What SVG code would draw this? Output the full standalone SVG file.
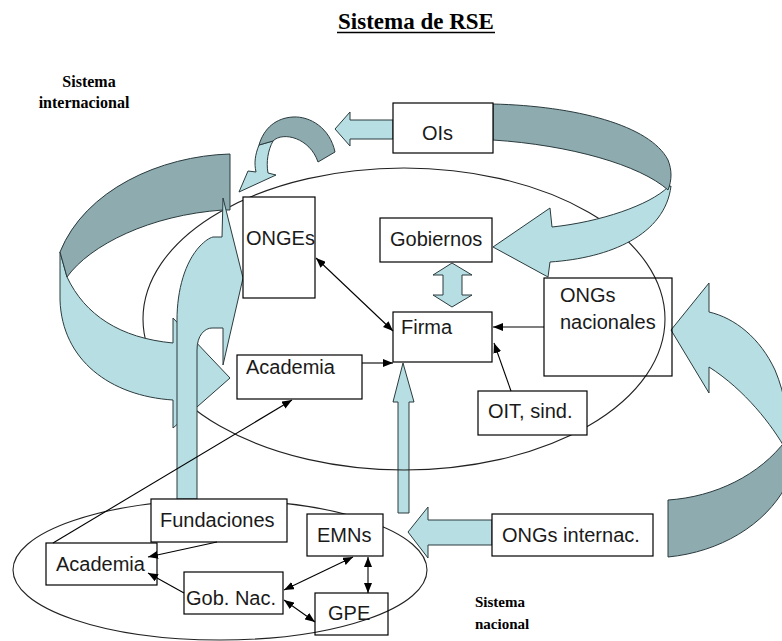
<svg xmlns="http://www.w3.org/2000/svg" width="782" height="641" viewBox="0 0 782 641">
<style>
.t{font-family:"Liberation Sans",Arial,sans-serif;font-size:20px;fill:#1a1a1a}
.lb{font-family:"Liberation Serif","Times New Roman",serif;font-weight:bold;fill:#000}
.box{fill:#fff;stroke:#000;stroke-width:1.2}
.boxo{fill:none;stroke:#000;stroke-width:1.2}
.ell{fill:none;stroke:#222;stroke-width:1.1}
.lt{fill:#b7dee2;stroke:#2a3b3e;stroke-width:1}
.dk{fill:#8eabb0;stroke:#2a3b3e;stroke-width:1}
.ln{fill:none;stroke:#000;stroke-width:1.1}
</style>
<defs>
<marker id="ah" viewBox="0 0 10 8" refX="10" refY="4" markerWidth="10" markerHeight="8" orient="auto-start-reverse" markerUnits="userSpaceOnUse"><path d="M0,0 L10,4 L0,8 Z" fill="#000"/></marker>
</defs>
<rect width="782" height="641" fill="#fff"/>

<g id="title">
<text class="lb" x="416" y="29" font-size="23" text-anchor="middle">Sistema de RSE</text>
<line x1="337" y1="32.5" x2="495" y2="32.5" stroke="#000" stroke-width="1.5"/>
</g>
<g id="label-internacional">
<text class="lb" x="89" y="87" font-size="16" text-anchor="middle">Sistema</text>
<text class="lb" x="84" y="108" font-size="16" text-anchor="middle">internacional</text>
</g>
<g id="label-nacional">
<text class="lb" x="475" y="607" font-size="15">Sistema</text>
<text class="lb" x="475" y="629" font-size="15">nacional</text>
</g>

<g id="firma-up-arrow">
<polygon class="lt" points="403,363 414,402 409,402 409,513 398,513 398,402 393,402"/>
</g>

<g id="ellipses">
<ellipse class="ell" cx="404" cy="319" rx="261" ry="151"/>
<ellipse class="ell" cx="220" cy="570" rx="207" ry="70"/>
</g>

<g id="block-arrows">
<path class="lt" d="M60,252 L60,300 C62,360 110,396 173,400 L173,428 L230,378 L173,318 L173,343 C120,338 85,315 67,277 Z"/>
<path class="dk" d="M230,154 C160,156 85,190 60,252 L67,277 C90,245 150,215 223,210 L230,210 Z"/>
<path class="lt" d="M177,499 L177,320 C177,290 185,262 200,246 C205,241 209,238 213,237 L222,237 L223,198 L243,278 L223,365 L223,328 L212,328 C205,328 197,335 197,350 L197,499 Z"/>
<path class="lt" d="M259,145 C255,155 254,163 256,172 L248,171 L239,192 L276,175 L268,173 C266,162 268,150 273,141 Z"/>
<path class="dk" d="M335,152 C330,128 310,116 293,117 C276,118 264,128 259,145 L273,141 C283,131 310,138 318,162 Z"/>
<path class="lt" d="M668,187 C650,205 600,222 552,227 L550,208 L493,247 L548,277 L550,262 C610,258 665,235 671,186 Z"/>
<path class="dk" d="M493,104 C575,106 650,125 668,160 C672,170 672,180 668,190 C640,165 570,145 493,140 Z"/>
<path class="lt" d="M709,312 C735,318 760,338 775,370 C780,382 784,395 786,410 L786,450 C772,425 745,390 709,367 L709,393 L671,330 L709,283 Z"/>
<path class="dk" d="M668,500 C715,497 760,475 786,440 L786,486 C765,525 720,552 668,557 Z"/>
<polygon class="lt" points="335,129 350,112 350,120 393,120 393,139 350,139 350,146"/>
<polygon class="lt" points="408,532 428,507 428,520 492,520 492,545 428,545 428,558"/>
<polygon class="lt" points="452,263 472,275 462,275 462,295 472,295 452,307 433,295 443,295 443,275 433,275"/>
</g>

<g id="n-ois"><rect class="box" x="393" y="103" width="100" height="50"/><text class="t" x="422" y="140">OIs</text></g>
<g id="n-onges"><rect class="box" x="243" y="197" width="72" height="101"/><text class="t" x="246" y="245">ONGEs</text></g>
<g id="n-gobiernos"><rect class="box" x="380" y="218" width="112" height="44"/><text class="t" x="390" y="246">Gobiernos</text></g>
<g id="n-firma"><rect class="box" x="393" y="312" width="99" height="50"/><text class="t" x="401" y="334">Firma</text></g>
<g id="n-ongs-nac"><rect class="boxo" x="544" y="278" width="128" height="98"/><text class="t" x="560" y="302">ONGs</text><text class="t" x="560" y="329">nacionales</text></g>
<g id="n-academia-int"><rect class="box" x="237" y="355" width="125" height="44"/><text class="t" x="246" y="374">Academia</text></g>
<g id="n-oit"><rect class="box" x="478" y="391" width="109" height="44"/><text class="t" x="488" y="418">OIT, sind.</text></g>
<g id="n-ongs-int"><rect class="box" x="492" y="514" width="161" height="42"/><text class="t" x="502" y="542">ONGs internac.</text></g>
<g id="n-fundaciones"><rect class="box" x="151" y="499" width="136" height="43"/><text class="t" x="160" y="527">Fundaciones</text></g>
<g id="n-emns"><rect class="box" x="307" y="514" width="76" height="42"/><text class="t" x="317" y="542">EMNs</text></g>
<g id="n-academia-nac"><rect class="box" x="46" y="543" width="111" height="42"/><text class="t" x="56" y="571">Academia</text></g>
<g id="n-gobnac"><rect class="box" x="184" y="572" width="99" height="42"/><text class="t" x="186" y="605">Gob. Nac.</text></g>
<g id="n-gpe"><rect class="boxo" x="315" y="593" width="73" height="42"/><text class="t" x="328" y="620">GPE</text></g>

<g id="connectors">
<line class="ln" x1="316" y1="258" x2="393" y2="331" marker-start="url(#ah)" marker-end="url(#ah)"/>
<line class="ln" x1="544" y1="327" x2="493" y2="327" marker-end="url(#ah)"/>
<line class="ln" x1="511" y1="391" x2="494" y2="343" marker-end="url(#ah)"/>
<line class="ln" x1="362" y1="363" x2="393" y2="363" marker-end="url(#ah)"/>
<line class="ln" x1="53" y1="543" x2="292" y2="400" marker-end="url(#ah)"/>
<line class="ln" x1="217" y1="542" x2="148" y2="557" marker-end="url(#ah)"/>
<line class="ln" x1="184" y1="593" x2="148" y2="573" marker-end="url(#ah)"/>
<line class="ln" x1="353" y1="557" x2="284" y2="590" marker-start="url(#ah)" marker-end="url(#ah)"/>
<line class="ln" x1="368" y1="557" x2="368" y2="593" marker-start="url(#ah)" marker-end="url(#ah)"/>
<line class="ln" x1="284" y1="600" x2="315" y2="622" marker-start="url(#ah)" marker-end="url(#ah)"/>
</g>
</svg>
